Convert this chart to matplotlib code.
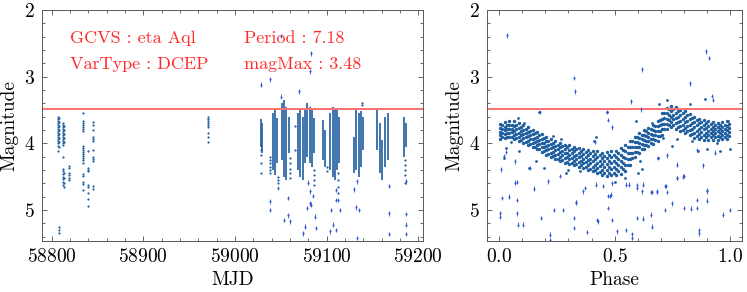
import numpy as np
import matplotlib
matplotlib.use("Agg")
import matplotlib.pyplot as plt

# ---- star info
star_name = "eta Aql"
var_type = "DCEP"
period = 7.18
mag_max = 3.48

# ---- light curve: sparse columns (mjd, mags)
lc_mjd = [58806.5, 58807.5, 58808.3, 58812.5, 58813.5, 58818.5, 58834.0, 58840.0,
          58844.5, 58970.5, 59028.5, 59038.5, 59047.0, 59060.0, 59066.0, 59086.0,
          59113.0, 59100.0, 59139.0, 59186.0]
lc_mags = [
    [3.60, 3.63, 3.67, 3.70, 3.73, 3.76, 3.79, 3.82, 3.85, 3.88, 3.91, 3.94, 3.97, 4.00, 4.04, 4.12],
    [3.62, 3.68, 3.74, 3.80, 3.86, 3.92, 3.98, 4.06],
    [5.25, 5.30, 5.35],
    [3.70, 3.73, 3.76, 3.79, 3.82, 3.85, 3.88, 3.91, 3.94, 3.97, 4.00, 4.03, 4.21, 4.38, 4.42,
     4.46, 4.50, 4.54, 4.58, 4.62],
    [3.74, 3.80, 3.86, 3.92, 3.98, 4.44, 4.52, 4.60, 4.65],
    [4.34, 4.37, 4.45, 4.48, 4.52, 4.55],
    [3.54, 3.66, 3.69, 3.72, 3.75, 3.79, 3.82, 4.04, 4.07, 4.10, 4.13, 4.16, 4.19, 4.22, 4.25,
     4.29, 4.46, 4.49, 4.58, 4.61, 4.70],
    [4.12, 4.37, 4.40, 4.42, 4.62, 4.65, 4.74, 4.83, 4.94],
    [3.68, 3.72, 3.80, 3.90, 3.93, 3.96, 4.10, 4.20, 4.23, 4.27, 4.64, 4.68],
    [3.61, 3.64, 3.67, 3.70, 3.73, 3.76, 3.85, 3.90, 3.98],
    [4.10, 4.18, 4.30, 4.45],
    [4.20, 4.25, 4.30, 4.35, 4.40, 4.45],
    [4.50, 4.55, 4.60],
    [4.22, 4.30, 4.38, 4.45, 4.52],
    [3.74, 4.10],
    [4.40, 4.48, 4.55, 4.62],
    [4.45, 4.55, 4.65, 4.74],
    [4.35, 4.42],
    [3.40, 3.43],
    [4.25, 4.32, 4.40, 4.48, 4.60],
]

# dense nightly runs: mjd, brightest, faintest
core_mjd = [59028, 59030, 59041, 59043.5, 59046, 59051, 59053.5, 59056, 59058.5,
            59069, 59071.5, 59074, 59076.5, 59079, 59081.5, 59084, 59086.5,
            59096, 59098.5, 59104, 59106.5, 59109, 59111.5, 59114,
            59130, 59132.5, 59135, 59137.5, 59140, 59155, 59158, 59160.5, 59164, 59167,
            59185, 59187]
core_top = [3.63, 3.70, 3.55, 3.48, 3.62, 3.40, 3.35, 3.45, 3.60,
            3.55, 3.48, 3.60, 3.50, 3.40, 3.45, 3.50, 3.62,
            3.65, 3.80, 3.55, 3.45, 3.48, 3.50, 3.60,
            3.90, 3.50, 3.55, 3.52, 3.60, 3.50, 3.70, 3.95, 3.60, 3.55,
            3.60, 3.70]
core_bot = [4.05, 4.15, 4.40, 4.48, 4.30, 4.25, 4.50, 4.55, 4.15,
            4.40, 4.50, 4.55, 4.30, 4.20, 4.30, 4.35, 4.15,
            4.25, 4.35, 4.40, 4.50, 4.55, 4.40, 4.30,
            4.45, 4.40, 4.50, 4.35, 4.10, 4.10, 4.45, 4.55, 4.35, 4.25,
            4.20, 4.05]

# faint / bright outliers
lc_out_mjd = [59028, 59038, 59050, 59050, 59070, 59082.5, 59082, 59038.3, 59038.3, 59047.4,
              59053.9, 59058.3, 59060.2, 59057.8, 59074.7, 59076.5, 59078.4, 59082, 59083,
              59087.4, 59088, 59082, 59080, 59085, 59104.9, 59107.4, 59103.8, 59110.4, 59110,
              59112.9, 59114.7, 59110.4, 59130.3, 59133, 59132, 59135.5, 59133, 59168.6,
              59168.6, 59168.3, 59186.8, 59186.5, 59186.5, 59186.8]
lc_out_mag = [3.12, 3.04, 2.39, 3.30, 3.22, 2.65, 2.92, 4.87, 5.00, 4.67,
              5.15, 5.08, 5.17, 4.82, 5.35, 5.25, 4.97, 4.90, 4.92,
              5.10, 5.27, 4.72, 4.59, 4.79, 5.00, 5.22, 5.32, 4.70, 4.85,
              4.85, 5.00, 5.30, 4.69, 4.57, 4.96, 5.00, 5.42, 4.64,
              5.05, 5.36, 4.57, 5.06, 5.22, 5.36]

# ---- folded curve: main band
band_phase_a = [0.005, 0.026, 0.044, 0.064, 0.085, 0.106, 0.124, 0.145, 0.166, 0.184,
                0.205, 0.226, 0.244, 0.265, 0.286, 0.304, 0.325, 0.346, 0.364, 0.385,
                0.406, 0.424, 0.445, 0.466, 0.484, 0.505, 0.526, 0.544, 0.565, 0.586,
                0.604, 0.625, 0.646, 0.664, 0.685, 0.706, 0.724, 0.745, 0.766, 0.784,
                0.805, 0.826, 0.844, 0.865, 0.886, 0.904, 0.925, 0.946, 0.964, 0.985]
band_mag_a = [
    [3.71, 3.77, 3.83, 3.88, 3.94], [3.68, 3.75, 3.80, 3.86, 3.92], [3.67, 3.73, 3.79, 3.85, 3.91],
    [3.66, 3.74, 3.81, 3.87, 3.94], [3.70, 3.77, 3.84, 3.90, 3.97], [3.73, 3.80, 3.86, 3.92, 3.99],
    [3.76, 3.83, 3.89, 3.96, 4.03], [3.80, 3.86, 3.93, 3.99, 4.06], [3.83, 3.90, 3.96, 4.03, 4.09],
    [3.86, 3.93, 4.00, 4.06, 4.13], [3.91, 3.97, 4.04, 4.10, 4.17], [3.94, 4.01, 4.07, 4.14, 4.21],
    [3.97, 4.04, 4.10, 4.17, 4.24], [3.99, 4.06, 4.13, 4.20, 4.27], [4.02, 4.09, 4.15, 4.22, 4.30],
    [4.03, 4.10, 4.17, 4.24, 4.31], [4.05, 4.12, 4.19, 4.26, 4.33], [4.07, 4.14, 4.21, 4.28, 4.35],
    [4.08, 4.16, 4.23, 4.30, 4.37], [4.10, 4.18, 4.25, 4.33, 4.40], [4.11, 4.19, 4.27, 4.35, 4.42],
    [4.12, 4.21, 4.29, 4.37, 4.45], [4.14, 4.22, 4.31, 4.40, 4.48], [4.13, 4.22, 4.31, 4.40, 4.49],
    [4.12, 4.21, 4.30, 4.39, 4.48], [4.11, 4.20, 4.29, 4.38, 4.48], [4.07, 4.17, 4.26, 4.36, 4.46],
    [4.03, 4.12, 4.22, 4.32, 4.42], [3.96, 4.05, 4.14, 4.23, 4.32], [3.90, 3.98, 4.05, 4.13, 4.21],
    [3.85, 3.92, 3.99, 4.06, 4.14], [3.80, 3.87, 3.95, 4.02, 4.09], [3.77, 3.84, 3.91, 3.97, 4.04],
    [3.73, 3.80, 3.87, 3.94, 4.01], [3.66, 3.74, 3.81, 3.89, 3.96], [3.55, 3.63, 3.71, 3.79, 3.87],
    [3.47, 3.55, 3.63, 3.71, 3.79], [3.44, 3.52, 3.60, 3.68, 3.76], [3.46, 3.54, 3.62, 3.70, 3.78],
    [3.50, 3.58, 3.66, 3.74, 3.82], [3.52, 3.60, 3.68, 3.77, 3.85], [3.56, 3.64, 3.72, 3.80, 3.88],
    [3.60, 3.68, 3.76, 3.84, 3.92], [3.63, 3.70, 3.78, 3.86, 3.94], [3.65, 3.72, 3.79, 3.87, 3.95],
    [3.67, 3.74, 3.81, 3.88, 3.95], [3.68, 3.75, 3.82, 3.88, 3.95], [3.69, 3.76, 3.82, 3.89, 3.95],
    [3.68, 3.75, 3.81, 3.88, 3.94], [3.67, 3.74, 3.80, 3.87, 3.93],
]
band_phase_b = [0.014, 0.035, 0.056, 0.075, 0.094, 0.115, 0.136, 0.154, 0.175, 0.196,
                0.214, 0.235, 0.256, 0.274, 0.295, 0.316, 0.334, 0.355, 0.376, 0.394,
                0.415, 0.436, 0.454, 0.475, 0.496, 0.514, 0.535, 0.556, 0.574, 0.595,
                0.616, 0.634, 0.655, 0.676, 0.694, 0.715, 0.736, 0.754, 0.775, 0.796,
                0.814, 0.835, 0.856, 0.874, 0.895, 0.916, 0.934, 0.955, 0.976, 0.994]
band_mag_b = [
    [3.73, 3.79, 3.84, 3.91], [3.72, 3.78, 3.85, 3.91], [3.72, 3.78, 3.83, 3.90], [3.73, 3.79, 3.86, 3.92],
    [3.75, 3.82, 3.88, 3.95], [3.78, 3.85, 3.91, 3.98], [3.81, 3.88, 3.94, 4.01], [3.85, 3.92, 3.98, 4.05],
    [3.88, 3.95, 4.01, 4.08], [3.92, 3.99, 4.05, 4.12], [3.96, 4.03, 4.09, 4.16], [3.99, 4.06, 4.13, 4.19],
    [4.02, 4.09, 4.16, 4.23], [4.04, 4.11, 4.18, 4.25], [4.06, 4.14, 4.21, 4.28], [4.08, 4.15, 4.22, 4.29],
    [4.09, 4.17, 4.24, 4.31], [4.11, 4.19, 4.26, 4.33], [4.13, 4.21, 4.28, 4.35], [4.15, 4.23, 4.30, 4.38],
    [4.16, 4.24, 4.32, 4.40], [4.18, 4.26, 4.34, 4.43], [4.19, 4.27, 4.36, 4.45], [4.18, 4.27, 4.36, 4.45],
    [4.17, 4.26, 4.35, 4.44], [4.14, 4.24, 4.33, 4.42], [4.10, 4.20, 4.29, 4.39], [4.05, 4.14, 4.23, 4.33],
    [3.97, 4.05, 4.14, 4.22], [3.91, 3.98, 4.06, 4.13], [3.87, 3.94, 4.01, 4.08], [3.82, 3.89, 3.96, 4.03],
    [3.79, 3.86, 3.93, 4.00], [3.74, 3.81, 3.88, 3.95], [3.65, 3.73, 3.81, 3.89], [3.54, 3.62, 3.71, 3.79],
    [3.49, 3.57, 3.65, 3.73], [3.49, 3.57, 3.64, 3.72], [3.52, 3.60, 3.68, 3.76], [3.55, 3.63, 3.72, 3.80],
    [3.58, 3.66, 3.74, 3.82], [3.62, 3.70, 3.78, 3.86], [3.65, 3.73, 3.81, 3.89], [3.68, 3.75, 3.83, 3.90],
    [3.70, 3.77, 3.84, 3.91], [3.71, 3.78, 3.85, 3.91], [3.72, 3.79, 3.85, 3.91], [3.73, 3.79, 3.85, 3.91],
    [3.72, 3.78, 3.84, 3.90], [3.71, 3.77, 3.83, 3.89],
]
# points spilling off the band edges
edge_phase = [0.023, 0.030, 0.081, 0.085, 0.131, 0.160, 0.174, 0.196, 0.232, 0.268,
              0.290, 0.412, 0.420, 0.468, 0.590, 0.693, 0.728, 0.826, 0.890, 0.768,
              0.747, 0.833, 0.862, 0.898, 0.955, 0.991, 0.999, 0.689, 0.610, 0.620,
              0.602, 0.545, 0.050, 0.110, 0.300, 0.350, 0.500, 0.660, 0.710, 0.940]
edge_mag = [4.22, 4.07, 3.62, 4.12, 4.37, 4.27, 3.53, 4.37, 3.89, 3.94,
            4.44, 3.96, 3.91, 3.53, 3.67, 3.41, 3.35, 3.41, 3.34, 3.94,
            4.04, 3.96, 4.12, 4.09, 4.12, 3.66, 4.09, 4.22, 4.27, 4.39,
            4.44, 4.52, 3.98, 3.70, 4.40, 4.42, 4.58, 3.70, 3.92, 3.99]

# folded outliers
ph_out = [0.036, 0.326, 0.330, 0.620, 0.894, 0.907, 0.826, 0.921, 0.923, 0.572, 0.177, 0.465,
          0.614, 0.473, 0.487, 0.415, 0.009, 0.014, 0.044, 0.004, 0.004, 0.077, 0.077, 0.080,
          0.083, 0.105, 0.069, 0.134, 0.151, 0.183, 0.210, 0.220, 0.220, 0.238, 0.278, 0.323,
          0.323, 0.331, 0.379, 0.425, 0.430, 0.473, 0.487, 0.481, 0.487, 0.509, 0.548, 0.576,
          0.576, 0.598, 0.621, 0.618, 0.598, 0.564, 0.660, 0.655, 0.660, 0.684, 0.686, 0.718,
          0.725, 0.719, 0.747, 0.768, 0.768, 0.797, 0.800, 0.829, 0.857, 0.857, 0.865, 0.865,
          0.883, 0.900, 0.900, 0.934, 0.967, 0.999, 0.855, 0.725, 0.022, 0.030, 0.265, 0.070,
          0.362, 0.370, 0.333, 0.419, 0.448, 0.470, 0.484, 0.549, 0.597, 0.624, 0.657, 0.682,
          0.722, 0.770, 0.798, 0.900]
mag_out = [2.38, 3.02, 3.22, 2.89, 2.62, 2.72, 3.10, 3.29, 3.35, 3.37, 3.53, 3.53,
           3.49, 3.65, 3.76, 3.98, 4.39, 4.82, 4.80, 5.05, 5.10, 4.58, 4.85, 5.05,
           5.22, 5.22, 4.27, 4.37, 4.68, 5.12, 4.57, 5.37, 5.45, 5.00, 5.00, 5.12,
           5.27, 4.89, 5.33, 5.15, 5.17, 4.97, 5.15, 4.79, 4.60, 5.32, 5.30, 5.36,
           5.42, 5.12, 5.13, 4.72, 4.63, 4.62, 5.25, 5.07, 4.73, 4.73, 4.22, 4.64,
           4.73, 5.00, 4.90, 4.32, 4.52, 4.50, 4.97, 4.98, 4.85, 4.97, 5.30, 5.35,
           4.33, 4.72, 4.86, 4.14, 5.07, 5.00, 4.10, 4.18, 4.19, 4.13, 4.49, 4.59,
           4.72, 4.67, 4.88, 4.62, 4.64, 4.79, 4.77, 4.62, 4.67, 4.62, 4.73, 4.72,
           4.64, 4.52, 4.49, 4.70]

# ---- style
plt.rcParams['font.family'] = 'serif'
plt.rcParams['font.serif'] = ['cmr10']
plt.rcParams['mathtext.fontset'] = 'cm'
plt.rcParams['axes.formatter.use_mathtext'] = True

dot_c = '#1f5f9f'
out_c = '#3058d8'
red_line = '#ff6f6f'
red_text = '#ff2b2b'

fig = plt.figure(figsize=(7.47, 2.92), dpi=100)
ax1 = fig.add_axes([0.0558, 0.1757, 0.5101, 0.7901])
ax2 = fig.add_axes([0.6515, 0.1757, 0.3418, 0.7901])

# left: light curve
lx = np.concatenate([[m] * len(v) for m, v in zip(lc_mjd, lc_mags)])
ly = np.concatenate(lc_mags)
ax1.vlines(core_mjd, core_top, core_bot, color=dot_c, lw=1.2)
ax1.scatter(lx, ly, s=2.5, color=dot_c, lw=0)
ax1.errorbar(lc_out_mjd, lc_out_mag, yerr=0.035, fmt='o', ms=1.6, mew=0, color=out_c,
             ecolor=out_c, elinewidth=0.7, capsize=0, alpha=0.9)
ax1.axhline(mag_max, color=red_line, lw=1.4)
ax1.text(58820, 2.5, 'GCVS : ' + star_name, color=red_text, fontsize=13)
ax1.text(58820, 2.88, 'VarType : ' + var_type, color=red_text, fontsize=13)
ax1.text(59010, 2.5, 'Period : %.2f' % period, color=red_text, fontsize=13)
ax1.text(59010, 2.88, 'magMax : %.2f' % mag_max, color=red_text, fontsize=13)
ax1.set_xlim(58789, 59205)
ax1.set_xticks([58800, 58900, 59000, 59100, 59200])
ax1.set_xticks(np.arange(58800, 59205, 20), minor=True)
ax1.set_xlabel('MJD', fontsize=14)

# right: folded
px = np.concatenate([[p] * len(v) for p, v in zip(band_phase_a + band_phase_b, band_mag_a + band_mag_b)])
py = np.concatenate(band_mag_a + band_mag_b)
ax2.scatter(px, py, s=6, color=dot_c, lw=0)
ax2.scatter(edge_phase, edge_mag, s=4, color=dot_c, lw=0)
ax2.errorbar(ph_out, mag_out, yerr=0.035, fmt='o', ms=1.6, mew=0, color=out_c,
             ecolor=out_c, elinewidth=0.7, capsize=0, alpha=0.9)
ax2.axhline(mag_max, color=red_line, lw=1.4)
ax2.set_xlim(-0.053, 1.05)
ax2.set_xticks([0.0, 0.5, 1.0])
ax2.set_xticks(np.arange(0, 1.01, 0.1), minor=True)
ax2.set_xlabel('Phase', fontsize=14)

for ax in (ax1, ax2):
    ax.set_ylim(5.46, 2.0)
    ax.set_yticks([2, 3, 4, 5])
    ax.set_yticks(np.arange(2.0, 5.5, 0.2), minor=True)
    ax.set_ylabel('Magnitude', fontsize=14)
    ax.tick_params(which='both', direction='in', top=True, right=True,
                   labelsize=14, width=0.6, colors='0.3', labelcolor='black', pad=5)
    ax.tick_params(which='major', length=3.5)
    ax.tick_params(which='minor', length=2)
    for s in ax.spines.values():
        s.set_linewidth(0.7)
        s.set_color('0.35')

fig.savefig('out.png', dpi=100)
